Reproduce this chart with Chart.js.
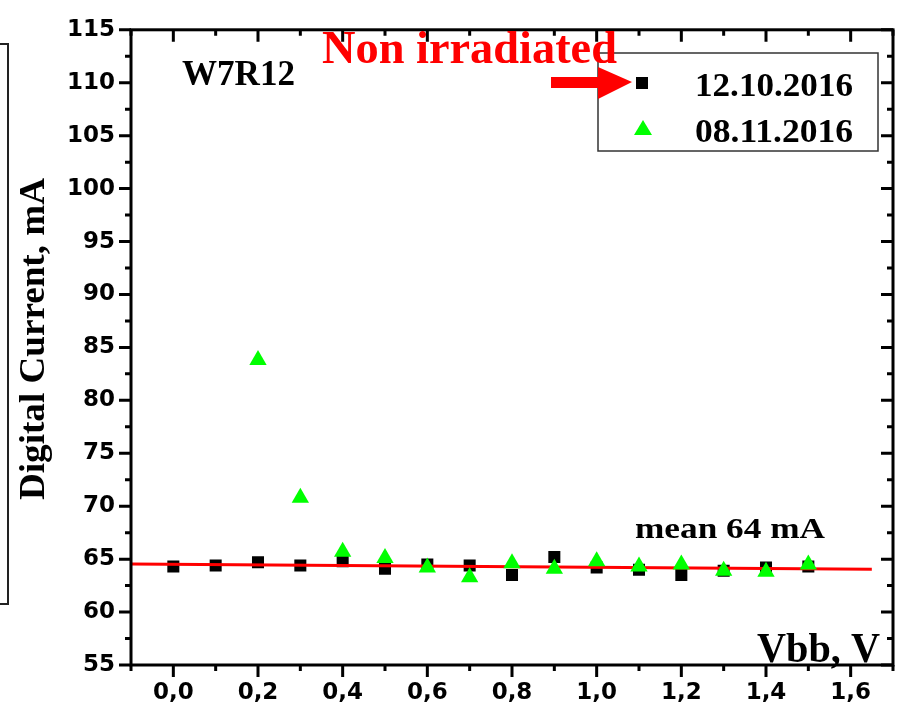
<!DOCTYPE html>
<html>
<head>
<meta charset="utf-8">
<title>W7R12 Digital Current vs Vbb</title>
<script src="https://cdn.jsdelivr.net/npm/chart.js"></script>
<style>
  html, body { margin: 0; padding: 0; background: #fff; }
  #wrap { width: 911px; height: 712px; }
</style>
</head>
<body>
<div id="wrap"><canvas id="chart" width="911" height="712"></canvas></div>
<script>
// Vbb steps (V)
const vbb = [0.0, 0.1, 0.2, 0.3, 0.4, 0.5, 0.6, 0.7, 0.8, 0.9, 1.0, 1.1, 1.2, 1.3, 1.4, 1.5];
// 12.10.2016 measurement, mA
const current1210 = [64.3, 64.4, 64.7, 64.4, 64.8, 64.1, 64.5, 64.4, 63.5, 65.2, 64.2, 64.0, 63.5, 63.9, 64.2, 64.3];
// 08.11.2016 measurement starts at 0.2 V, mA
const vbb0811 = [0.2, 0.3, 0.4, 0.5, 0.6, 0.7, 0.8, 0.9, 1.0, 1.1, 1.2, 1.3, 1.4, 1.5];
const current0811 = [83.8, 70.8, 65.7, 65.1, 64.2, 63.3, 64.6, 64.1, 64.8, 64.3, 64.5, 63.9, 63.8, 64.5];
// linear fit ("mean 64 mA")
const fitX = [-0.1, 1.65];
const fitY = [64.55, 64.05];

const xTicks = [0.0, 0.2, 0.4, 0.6, 0.8, 1.0, 1.2, 1.4, 1.6];
const yTicks = [55, 60, 65, 70, 75, 80, 85, 90, 95, 100, 105, 110, 115];
const seriesLabels = ['12.10.2016', '08.11.2016'];

const SERIF = '"Liberation Serif", "Times New Roman", serif';

function toPoints(xs, ys) {
    return xs.map((x, i) => ({ x: x, y: ys[i] }));
}

// text scaled to a given width, left/baseline anchored
function fitText(ctx, text, x, y, size, width) {
    ctx.save();
    ctx.font = 'bold ' + size + 'px ' + SERIF;
    const w = ctx.measureText(text).width;
    ctx.translate(x, y);
    ctx.scale(width / w, 1);
    ctx.textAlign = 'left';
    ctx.textBaseline = 'alphabetic';
    ctx.fillText(text, 0, 0);
    ctx.restore();
}

const decorations = {
    id: 'decorations',
    afterDraw(chart) {
        const ctx = chart.ctx;
        const a = chart.chartArea;
        const xs = chart.scales.x;
        const ys = chart.scales.y;

        ctx.save();
        // cut-off box on the far left
        ctx.strokeStyle = '#222';
        ctx.lineWidth = 2;
        ctx.beginPath();
        ctx.moveTo(-2, 44);
        ctx.lineTo(8, 44);
        ctx.lineTo(8, 604);
        ctx.lineTo(-2, 604);
        ctx.stroke();

        // frame
        ctx.strokeStyle = '#000';
        ctx.lineWidth = 3;
        ctx.strokeRect(a.left, a.top, a.right - a.left, a.bottom - a.top);

        // x ticks: bottom outward, top inward
        for (let i = -1; i <= 17; i++) {
            const v = i / 10;
            const px = xs.getPixelForValue(v);
            const major = i % 2 === 0;
            const len = major ? 12 : 6;
            ctx.beginPath();
            ctx.moveTo(px, a.bottom);
            ctx.lineTo(px, a.bottom + len);
            ctx.moveTo(px, a.top);
            ctx.lineTo(px, a.top + len);
            ctx.stroke();
        }
        // y ticks: left outward, right inward
        for (let v = 55; v <= 115; v += 2.5) {
            const py = ys.getPixelForValue(v);
            const major = v % 5 === 0;
            const len = major ? 12 : 6;
            ctx.beginPath();
            ctx.moveTo(a.left, py);
            ctx.lineTo(a.left - len, py);
            ctx.moveTo(a.right, py);
            ctx.lineTo(a.right - len, py);
            ctx.stroke();
        }

        // texts
        ctx.fillStyle = '#000';
        fitText(ctx, 'W7R12', 182, 85, 35, 113);
        fitText(ctx, 'mean 64 mA', 635, 538, 29, 190);
        fitText(ctx, 'Vbb, V', 757, 662, 43, 123);

        // y axis title
        ctx.save();
        ctx.translate(44, 500);
        ctx.rotate(-Math.PI / 2);
        ctx.font = 'bold 35px ' + SERIF;
        const tw = ctx.measureText('Digital Current, mA').width;
        ctx.scale(322 / tw, 1);
        ctx.textBaseline = 'alphabetic';
        ctx.fillText('Digital Current, mA', 0, 0);
        ctx.restore();

        // legend box
        ctx.fillStyle = '#fff';
        ctx.fillRect(598, 53, 280, 98);
        ctx.strokeStyle = '#333';
        ctx.lineWidth = 1.5;
        ctx.strokeRect(598, 53, 280, 98);
        ctx.fillStyle = '#000';
        ctx.fillRect(636, 77, 12, 12);
        ctx.fillStyle = '#00ff00';
        ctx.beginPath();
        ctx.moveTo(643, 120);
        ctx.lineTo(652, 135);
        ctx.lineTo(634, 135);
        ctx.closePath();
        ctx.fill();
        ctx.fillStyle = '#000';
        fitText(ctx, seriesLabels[0], 695, 96, 34, 158);
        fitText(ctx, seriesLabels[1], 695, 142, 34, 158);

        // "Non irradiated" and arrow
        ctx.fillStyle = '#ff0000';
        fitText(ctx, 'Non irradiated', 322, 63, 46, 295);
        ctx.beginPath();
        ctx.rect(551, 77, 49, 11);
        ctx.moveTo(598, 67);
        ctx.lineTo(632, 82);
        ctx.lineTo(598, 99);
        ctx.closePath();
        ctx.fill();
        ctx.restore();
    }
};

new Chart(document.getElementById('chart'), {
    type: 'scatter',
    data: {
        datasets: [
            {
                label: seriesLabels[1],
                data: toPoints(vbb0811, current0811),
                pointStyle: 'triangle',
                pointRadius: 10,
                pointBackgroundColor: '#00ff00',
                pointBorderColor: '#00ff00',
                pointBorderWidth: 0
            },
            {
                label: 'fit',
                data: toPoints(fitX, fitY),
                showLine: true,
                pointRadius: 0,
                borderColor: '#ff0000',
                borderWidth: 3
            },
            {
                label: seriesLabels[0],
                data: toPoints(vbb, current1210),
                pointStyle: 'rect',
                pointRadius: 8.5,
                pointBackgroundColor: '#000',
                pointBorderColor: '#000',
                pointBorderWidth: 0
            }
        ]
    },
    options: {
        responsive: false,
        animation: false,
        events: [],
        layout: { padding: { left: 0, right: 18, top: 25, bottom: 0 } },
        plugins: {
            legend: { display: false },
            tooltip: { enabled: false }
        },
        scales: {
            x: {
                type: 'linear',
                min: -0.1,
                max: 1.7,
                grid: { display: false, drawTicks: false },
                border: { display: false },
                afterBuildTicks: s => { s.ticks = xTicks.map(v => ({ value: v })); },
                afterFit: s => { s.height = 47; },
                ticks: {
                    color: '#000',
                    padding: 14,
                    maxRotation: 0,
                    autoSkip: false,
                    font: { family: '"DejaVu Sans"', weight: 'bold', size: 23 },
                    callback: v => v.toFixed(1).replace('.', ',')
                }
            },
            y: {
                type: 'linear',
                min: 55,
                max: 115,
                grid: { display: false, drawTicks: false },
                border: { display: false },
                afterBuildTicks: s => { s.ticks = yTicks.map(v => ({ value: v })); },
                afterFit: s => { s.width = 131; },
                ticks: {
                    color: '#000',
                    padding: 16,
                    autoSkip: false,
                    font: { family: '"DejaVu Sans"', weight: 'bold', size: 23 },
                    callback: v => String(v)
                }
            }
        }
    },
    plugins: [decorations]
});
</script>
</body>
</html>
